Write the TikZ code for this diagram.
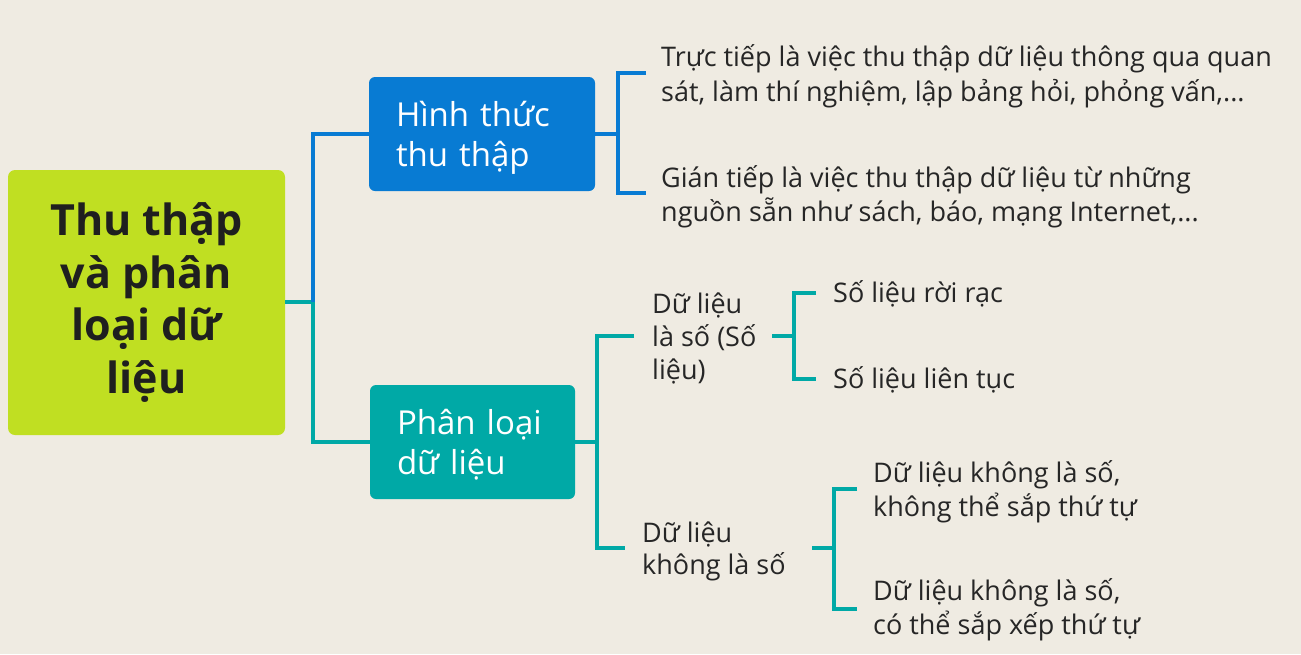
\documentclass[tikz,border=0pt]{standalone}
\usepackage{fontspec}
\setmainfont{Open Sans}
\definecolor{bgc}{RGB}{239,235,226}
\definecolor{rootc}{RGB}{192,223,34}
\definecolor{bluec}{RGB}{8,123,211}
\definecolor{tealc}{RGB}{0,169,166}
\definecolor{txtc}{RGB}{38,38,38}
\tikzset{
  rootbox/.style={fill=rootc, rounded corners=7pt, minimum width=277pt, minimum height=265pt,
    align=center, text=black!88, font=\fontsize{43}{52.5}\selectfont\bfseries, inner sep=0pt},
  catbox/.style={rounded corners=6pt, minimum height=114pt, text=white, inner xsep=27pt,
    align=left, text depth=40pt, font=\fontsize{33}{40}\selectfont},
  leaf/.style={anchor=base west, align=left, inner sep=0pt, text=txtc, font=\fontsize{27}{34}\selectfont},
  bluel/.style={draw=bluec, line width=4pt},
  teall/.style={draw=tealc, line width=4pt},
}
\begin{document}
\begin{tikzpicture}[x=1pt,y=-1pt]
\fill[bgc] (0,0) rectangle (1301,654);
\useasboundingbox (0,0) rectangle (1301,654);

\node[rootbox] (root) at (146.5,302.5) {Thu thập\\và phân\\loại dữ\\liệu};
\node[catbox, fill=bluec, minimum width=226pt, text width=172pt] (hinh) at (482,134) {Hình thức\\thu thập};
\node[catbox, fill=tealc, minimum width=205pt, text width=151pt] (phan) at (472.5,442) {Phân loại\\dữ liệu};

% leaf nodes: anchor base = baseline of the last line
\node[leaf, font=\fontsize{27}{35}\selectfont] (t1) at (661,101) {Trực tiếp là việc thu thập dữ liệu thông qua quan\\sát, làm thí nghiệm, lập bảng hỏi, phỏng vấn,...};
\node[leaf, font=\fontsize{27}{34}\selectfont] (t2) at (661,221) {Gián tiếp là việc thu thập dữ liệu từ những\\nguồn sẵn như sách, báo, mạng Internet,...};

\node[leaf, font=\fontsize{27}{33}\selectfont] (d1) at (652,379) {Dữ liệu\\là số (Số\\liệu)};
\node[leaf] (s1) at (833,302) {Số liệu rời rạc};
\node[leaf] (s2) at (833,388) {Số liệu liên tục};

\node[leaf, font=\fontsize{27}{32}\selectfont] (d2) at (642,574) {Dữ liệu\\không là số};
\node[leaf] (n1) at (873,516) {Dữ liệu không là số,\\không thể sắp thứ tự};
\node[leaf] (n2) at (873,634) {Dữ liệu không là số,\\có thể sắp xếp thứ tự};

% junctions and bracket ends
\coordinate (j0) at (313,302);
\coordinate (j1) at (618,134);
\coordinate (b1t) at (646,73);
\coordinate (b1b) at (646,193);
\coordinate (j2) at (597,442);
\coordinate (b2t) at (634,336);
\coordinate (b2b) at (625,548);
\coordinate (d1e) at (772,336);
\coordinate (j3) at (794,336);
\coordinate (b3t) at (816,293);
\coordinate (b3b) at (816,379);
\coordinate (d2e) at (812,548);
\coordinate (j4) at (834,548);
\coordinate (b4t) at (857,489);
\coordinate (b4b) at (857,609);

\draw[teall] (root.east |- j0) -- (j0);
\draw[bluel] (j0) |- (hinh.west);
\draw[teall] (j0) |- (phan.west);

\draw[bluel] (hinh.east |- j1) -- (j1);
\draw[bluel] (b1t) -| (j1) |- (b1b);

\draw[teall] (phan.east |- j2) -- (j2);
\draw[teall] (b2t) -| (j2) |- (b2b);

\draw[teall] (d1e) -- (j3);
\draw[teall] (b3t) -| (j3) |- (b3b);

\draw[teall] (d2e) -- (j4);
\draw[teall] (b4t) -| (j4) |- (b4b);
\end{tikzpicture}
\end{document}
